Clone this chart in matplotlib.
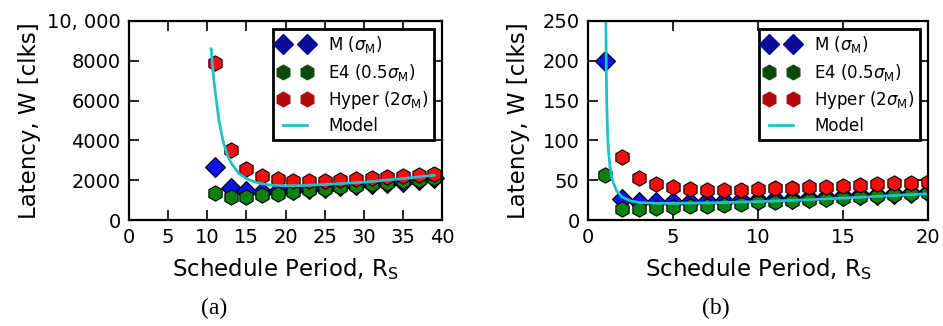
import matplotlib
matplotlib.use("Agg")
import matplotlib.pyplot as plt
from matplotlib.lines import Line2D

# ---------------- data: panel (a) ----------------
a_x = [11, 13, 15, 17, 19, 21, 23, 25, 27, 29, 31, 33, 35, 37, 39]
a_m = [2650, 1600, 1450, 1400, 1450, 1500, 1550, 1600, 1700, 1750, 1800, 1850, 1900, 2000, 2100]
a_e4 = [1350, 1150, 1150, 1250, 1300, 1400, 1500, 1550, 1650, 1700, 1800, 1850, 1950, 2000, 2100]
a_hyper = [7900, 3500, 2550, 2200, 2050, 1950, 1950, 1950, 2000, 2050, 2100, 2150, 2200, 2250, 2300]
a_model_x = [10.5, 10.8, 11, 11.5, 12, 12.5, 13, 14, 15, 16, 17, 18, 20, 22, 25, 30, 35, 39]
a_model_y = [8600, 7200, 6500, 5000, 4000, 3350, 2900, 2350, 2080, 1920, 1820, 1760, 1720, 1730, 1780, 1900, 2080, 2250]

# ---------------- data: panel (b) ----------------
b_x = list(range(1, 21))
b_m = [200, 27, 23, 22, 22, 23, 24, 24, 25, 25, 26, 27, 28, 29, 30, 31, 32, 33, 34, 35]
b_e4 = [57, 14, 14, 15, 16, 17, 18, 19, 20, 22, 23, 24, 25, 26, 28, 29, 30, 31, 33, 34]
b_hx = list(range(2, 21))
b_hyper = [79, 53, 45, 41, 39, 38, 38, 38, 39, 40, 40, 41, 42, 43, 44, 45, 46, 47, 48]
b_model_x = [1.02, 1.05, 1.08, 1.1, 1.15, 1.2, 1.3, 1.4, 1.5, 1.7, 2.0, 2.5, 3, 4, 5, 7, 10, 13, 16, 20]
b_model_y = [300, 250, 180, 150, 110, 88, 66, 54, 46, 36, 29, 24, 22, 21, 21, 21.5, 23, 25.5, 28.5, 33]

labels = [r'M ($\sigma_{\mathrm{M}}$)', r'E4 (0.5$\sigma_{\mathrm{M}}$)',
          r'Hyper (2$\sigma_{\mathrm{M}}$)', 'Model']

plt.rcParams['font.family'] = ['DejaVu Sans']
plt.rcParams['mathtext.fontset'] = 'dejavusans'

fig = plt.figure(figsize=(9.43, 3.26), dpi=100)
W, H = 943.0, 326.0
ax1 = fig.add_axes([129 / W, 1 - 220 / H, (442 - 129) / W, (220 - 21) / H])
ax2 = fig.add_axes([588 / W, 1 - 220 / H, (928 - 588) / W, (220 - 21) / H])

blue, green, red, cyan = '#0a14e6', '#0d800d', '#ff0a0a', '#22c0c8'


def panel(ax, x, m, e4, hx, hy, mx, my):
    ax.plot(x, m, linestyle='none', marker='D', ms=10, mfc=blue, mec='black', mew=0.8, clip_on=False)
    ax.plot(x, e4, linestyle='none', marker='h', ms=11, mfc=green, mec='black', mew=0.8, clip_on=False)
    ax.plot(hx, hy, linestyle='none', marker='h', ms=11, mfc=red, mec='black', mew=0.8, clip_on=False)
    ax.plot(mx, my, color=cyan, lw=2)
    for s in ax.spines.values():
        s.set_linewidth(1.6)
    ax.tick_params(direction='in', top=True, right=True, length=7, width=1.2,
                   labelsize=14, pad=6)
    ax.set_xlabel(r'Schedule Period, R$_{\mathrm{S}}$', fontsize=16.5, labelpad=6)
    ax.set_ylabel('Latency, W [clks]', fontsize=16.5)
    handles = [
        Line2D([], [], linestyle='none', marker='D', ms=10, mfc='#0a0a9a', mec='#0a0a9a'),
        Line2D([], [], linestyle='none', marker='h', ms=10.5, mfc='#0a4a0a', mec='#0a4a0a'),
        Line2D([], [], linestyle='none', marker='h', ms=10.5, mfc='#b00a0a', mec='#b00a0a'),
        Line2D([], [], color=cyan, lw=2),
    ]
    leg = ax.legend(handles, labels, loc='upper right', numpoints=2, fontsize=12,
                    frameon=True, fancybox=False, borderaxespad=0.5,
                    handlelength=2.0, handletextpad=1.0, labelspacing=0.38,
                    borderpad=0.3)
    leg.get_frame().set_edgecolor('black')
    leg.get_frame().set_linewidth(2)
    leg.get_frame().set_alpha(1)


panel(ax1, a_x, a_m, a_e4, a_x, a_hyper, a_model_x, a_model_y)
ax1.set_xlim(0, 40)
ax1.set_ylim(0, 10000)
ax1.set_xticks(range(0, 41, 5))
ax1.set_yticks([0, 2000, 4000, 6000, 8000, 10000])
ax1.set_yticklabels(['0', '2000', '4000', '6000', '8000', '10, 000'])
ax1.yaxis.labelpad = 4

panel(ax2, b_x, b_m, b_e4, b_hx, b_hyper, b_model_x, b_model_y)
ax2.set_xlim(0, 20)
ax2.set_ylim(0, 250)
ax2.set_xticks([0, 5, 10, 15, 20])
ax2.set_yticks([0, 50, 100, 150, 200, 250])
ax2.yaxis.labelpad = 9
for ln in ax2.lines[:3]:
    ln.set_clip_on(True)

fig.text(214 / W, 1 - 308 / H, '(a)', ha='center', va='center',
         family='Liberation Serif', fontsize=17)
fig.text(716 / W, 1 - 308 / H, '(b)', ha='center', va='center',
         family='Liberation Serif', fontsize=17)

fig.savefig('out.png', dpi=100)
